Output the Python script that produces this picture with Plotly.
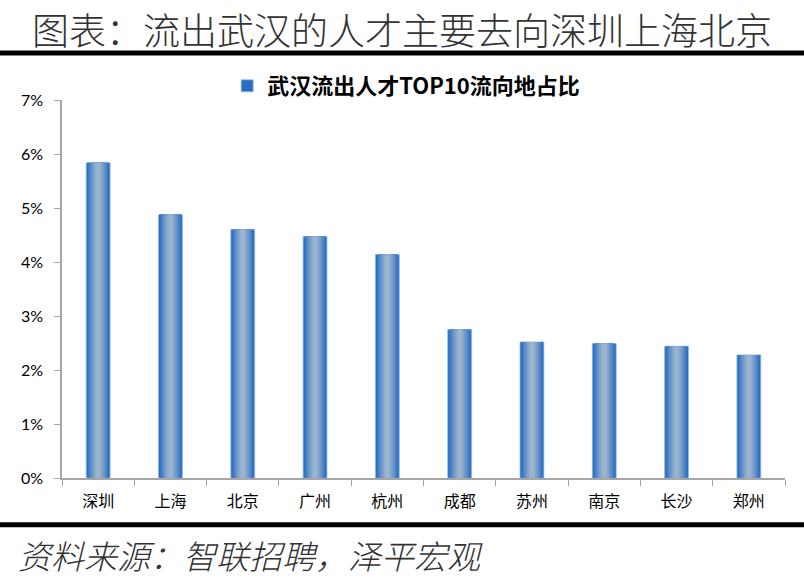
import plotly.graph_objects as go

# data (share of talent leaving Wuhan, %)
cities = ['深圳', '上海', '北京', '广州', '杭州', '成都', '苏州', '南京', '长沙', '郑州']
share = [5.84, 4.88, 4.60, 4.47, 4.14, 2.75, 2.52, 2.49, 2.44, 2.28]
y_ticks = [0, 1, 2, 3, 4, 5, 6, 7]
y_labels = [f'{v}%' for v in y_ticks]
series_name = '武汉流出人才TOP10流向地占比'

# fake the excel-style gradient: stacked layers, wide dark -> narrow light
layer_widths = [0.33, 0.29, 0.25, 0.21, 0.17, 0.13, 0.09, 0.05]
layer_colors = ['#2A6BC0', '#3A77C3', '#4C83C5', '#5F90C7', '#7099C9',
                '#80A4CB', '#8FADCD', '#9BB5CF']

fig = go.Figure()
for i, (w, c) in enumerate(zip(layer_widths, layer_colors)):
    fig.add_trace(go.Bar(
        x=cities, y=share, width=w, name=series_name,
        marker=dict(color=c, line=dict(color='#8DBDEB' if i == 0 else c, width=0.8 if i == 0 else 0)),
        showlegend=(i == 0), hoverinfo='skip' if i else None,
    ))

fig.update_layout(
    width=804, height=585,
    barmode='overlay',
    paper_bgcolor='white', plot_bgcolor='white',
    margin=dict(l=62, r=19, t=100, b=107),
    font=dict(family='Noto Sans CJK SC', color='#000000'),
    showlegend=True,
    legend=dict(orientation='h', x=0.476, xanchor='center', y=1.037, yanchor='middle',
                font=dict(size=22, family='Noto Sans CJK SC', weight='bold'),
                itemwidth=30, bgcolor='rgba(0,0,0,0)'),
    xaxis=dict(showline=True, linecolor='#A6A6A6', linewidth=1.5,
               ticks='outside', tickson='boundaries', ticklen=6, tickcolor='#A6A6A6',
               tickfont=dict(size=16, family='Noto Sans CJK SC'), ticklabelstandoff=8,
               showgrid=False),
    yaxis=dict(range=[0, 7], tickmode='array', tickvals=y_ticks, ticktext=y_labels,
               showline=True, linecolor='#A6A6A6', linewidth=1.5,
               ticks='outside', ticklen=6, tickcolor='#A6A6A6',
               tickfont=dict(size=16, family='Lato'), ticklabelstandoff=8,
               showgrid=False, zeroline=False),
    shapes=[
        dict(type='line', xref='paper', yref='paper', x0=-0.0858, x1=1.0263,
             y0=1.1245, y1=1.1245, line=dict(color='black', width=5)),
        dict(type='line', xref='paper', yref='paper', x0=-0.0858, x1=1.0263,
             y0=-0.1239, y1=-0.1239, line=dict(color='black', width=5)),
    ],
    annotations=[
        dict(text='图表：流出武汉的人才主要去向深圳上海北京', xref='paper', yref='paper',
             x=0.47, y=1.188, xanchor='center', yanchor='middle', showarrow=False,
             font=dict(size=37, family='Noto Sans CJK SC', weight=300, color='#333333')),
        dict(text='<i>资料来源：智联招聘，泽平宏观</i>', xref='paper', yref='paper',
             x=-0.064, y=-0.2047, xanchor='left', yanchor='middle', showarrow=False,
             font=dict(size=33, family='Noto Sans CJK SC', weight=300, color='#333333')),
    ],
)

# page body has a default 8px margin; drop it so the figure sits at 0,0
fig.write_html('out.html', config={'displayModeBar': False},
               post_script="document.body.style.margin='0';")
